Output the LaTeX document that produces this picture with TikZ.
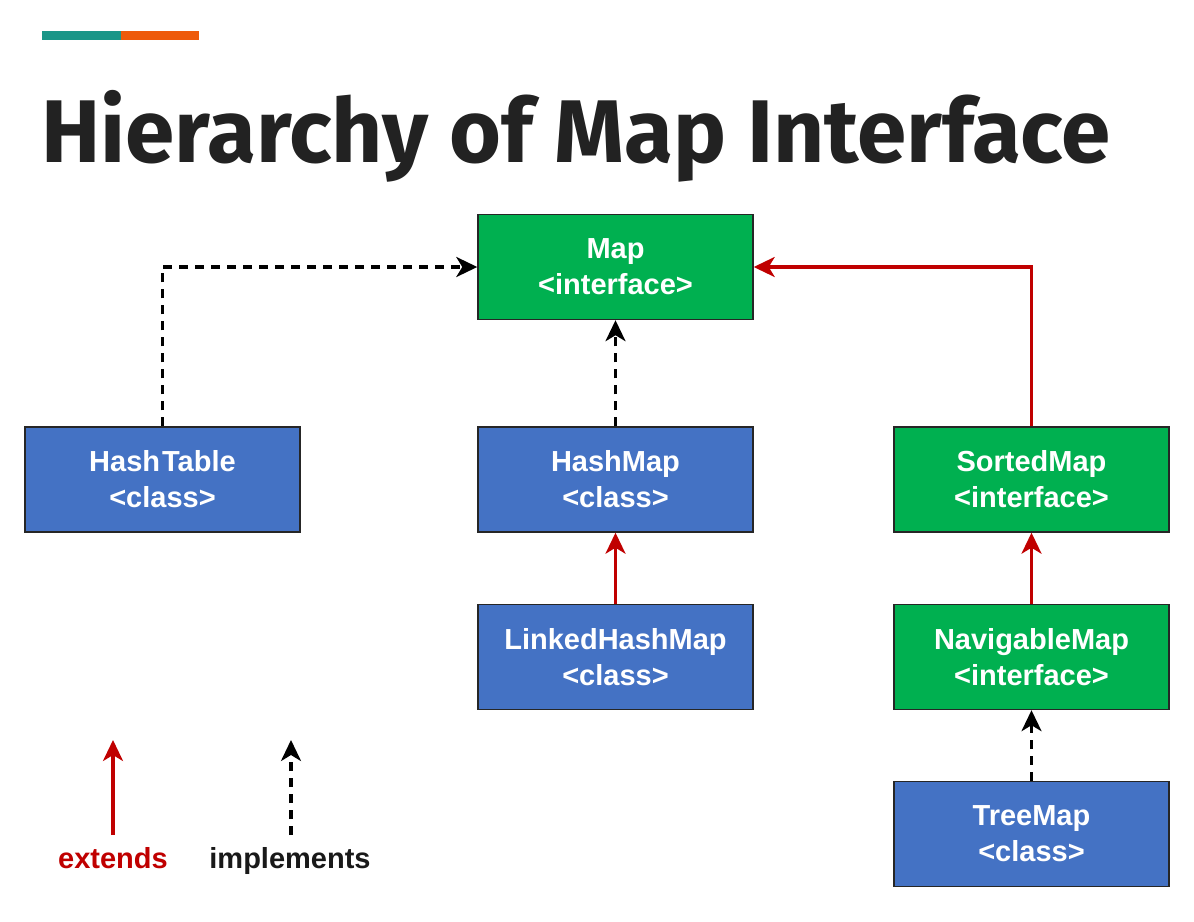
\documentclass[tikz,border=0pt]{standalone}
\usepackage{fontspec}
\setmainfont{Liberation Sans}
\newfontfamily\titlefont{Fira Sans}
\usetikzlibrary{arrows.meta}
\definecolor{boxgreen}{RGB}{0,176,80}
\definecolor{boxblue}{RGB}{68,114,196}
\definecolor{extred}{RGB}{192,0,0}
\definecolor{teal1}{RGB}{26,150,136}
\definecolor{orng}{RGB}{238,90,10}
\definecolor{titlegray}{RGB}{34,34,34}
\tikzset{
  umlbox/.style={draw=black!85, line width=1.4pt, minimum width=275pt, minimum height=105pt,
    text=white, font=\fontsize{29}{36}\selectfont\bfseries, align=center, inner sep=0pt},
  ifacebox/.style={umlbox, fill=boxgreen},
  classbox/.style={umlbox, fill=boxblue},
  extarrow/.style={draw=extred, line width=3.2pt, -{Stealth[length=21pt,width=20pt,inset=6pt]}},
  implarrow/.style={draw=black, line width=3.2pt, dash pattern=on 9pt off 7pt, -{Stealth[length=21pt,width=20pt,inset=6pt]}},
  legendtxt/.style={font=\fontsize{29}{34}\selectfont\bfseries, anchor=base}
}
\begin{document}
\begin{tikzpicture}[x=1pt,y=-1pt]
\useasboundingbox (0,0) rectangle (1194,921);
\fill[white] (0,0) rectangle (1194,921);
% top bar
\fill[teal1] (42,31) rectangle (121,40);
\fill[orng] (121,31) rectangle (199,40);
% title
\node[anchor=base west, inner sep=0pt, text=titlegray, font=\titlefont\fontsize{89}{100}\selectfont\bfseries] (title) at (41,162) {Hierarchy of Map Interface};
% boxes
\node[ifacebox] (map) at (615.5,267) {Map\\<interface>};
\node[classbox] (hashtable) at (162.5,479.5) {Hash\kern2pt Table\\<class>};
\node[classbox] (hashmap) at (615.5,479.5) {HashMap\\<class>};
\node[ifacebox] (sortedmap) at (1031.5,479.5) {SortedMap\\<interface>};
\node[classbox] (linked) at (615.5,657) {LinkedHashMap\\<class>};
\node[ifacebox] (navmap) at (1031.5,657) {NavigableMap\\<interface>};
\node[classbox] (treemap) at (1031.5,834) {TreeMap\\<class>};
% connectors
\draw[implarrow] (hashtable.north) |- (map.west);
\draw[implarrow] (hashmap.north) -- (map.south);
\draw[extarrow] (sortedmap.north) |- (map.east);
\draw[extarrow] (linked.north) -- (hashmap.south);
\draw[extarrow] (navmap.north) -- (sortedmap.south);
\draw[implarrow] (treemap.north) -- (navmap.south);
% legend
\coordinate (e1) at (113,835);
\coordinate (e2) at (113,740);
\coordinate (i1) at (291,835);
\coordinate (i2) at (291,740);
\draw[extarrow] (e1) -- (e2);
\draw[implarrow] (i1) -- (i2);
\node[legendtxt, text=extred] (extlbl) at (113,868) {extends};
\node[legendtxt, text=black!90] (impllbl) at (290,868) {implements};
\end{tikzpicture}
\end{document}
